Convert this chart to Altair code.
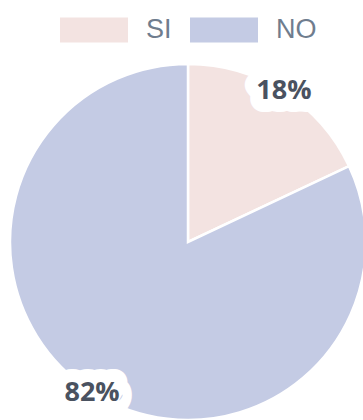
import altair as alt
import pandas as pd

categorias = ["SI", "NO"]
valores = [18, 82]
etiquetas = ["18%", "82%"]
colores = ["#f3e3e1", "#c4cbe4"]

df = pd.DataFrame({
    "cat": categorias,
    "valor": valores,
    "etiqueta": etiquetas,
    "orden": list(range(len(categorias))),
})

base = alt.Chart(df).encode(
    theta=alt.Theta("valor:Q", stack=True),
    order=alt.Order("orden:Q"),
    x=alt.value(188),
    y=alt.value(242),
)

arc = base.mark_arc(radius=178, stroke="white", strokeWidth=2.5).encode(
    color=alt.Color(
        "cat:N",
        scale=alt.Scale(domain=categorias, range=colores),
        title=None,
        legend=alt.Legend(
            orient="none",
            legendX=60,
            legendY=-4,
            direction="horizontal",
            symbolType="M-1,-0.37H1V0.37H-1Z",
            symbolSize=4624,
            symbolStrokeWidth=0,
            symbolOpacity=1,
            labelFont="Liberation Sans",
            labelFontSize=27,
            labelColor="#6f7d8e",
            labelOffset=18,
            columnPadding=18,
        ),
    )
)

fondo = base.mark_text(
    radius=179,
    font="Open Sans",
    fontWeight="bold",
    fontSize=27,
    fill="white",
    stroke="white",
    strokeWidth=26,
    strokeJoin="round",
).encode(text="etiqueta:N")

texto = base.mark_text(
    radius=179,
    font="Open Sans",
    fontWeight="bold",
    fontSize=27,
    color="#4a5260",
).encode(text="etiqueta:N")

chart = (
    alt.layer(arc, fondo, texto)
    .properties(width=363, height=420, padding=0, autosize="none", background="white")
    .configure_view(stroke=None)
)

chart.save("out.html", embed_options={"renderer": "svg", "actions": False})
